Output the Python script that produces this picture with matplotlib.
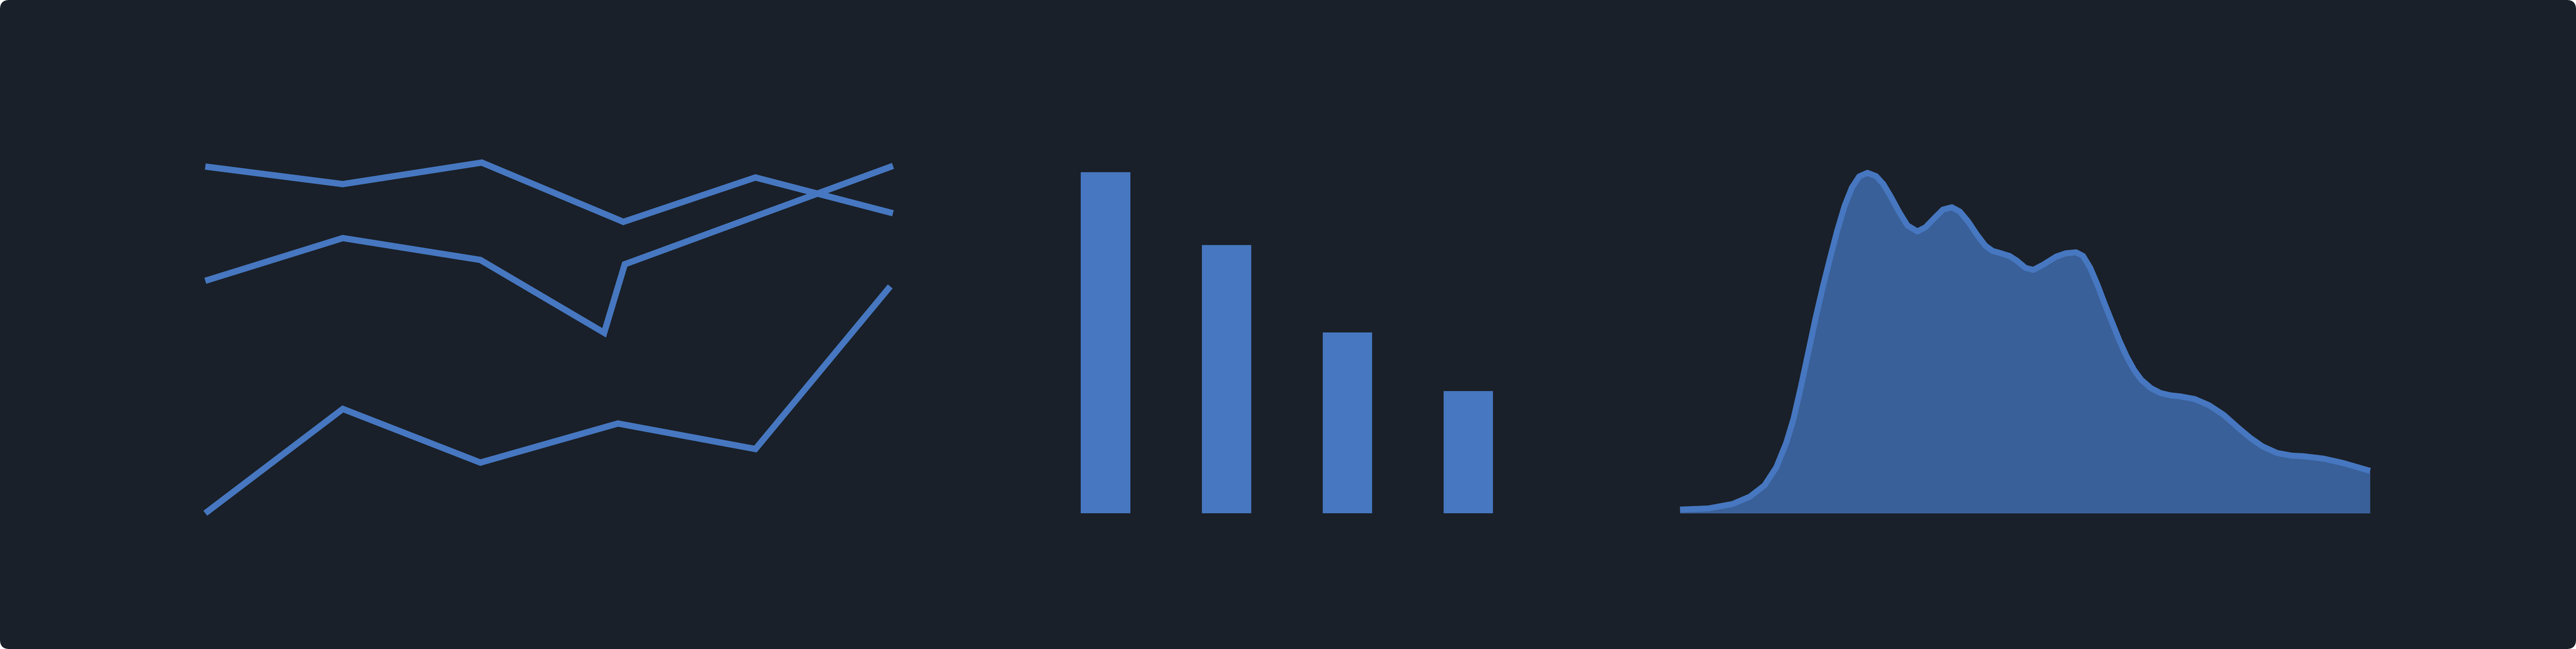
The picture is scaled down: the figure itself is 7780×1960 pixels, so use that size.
import matplotlib
matplotlib.use("Agg")
import matplotlib.pyplot as plt
from matplotlib.patches import FancyBboxPatch
from matplotlib.transforms import IdentityTransform

# colours
bg_color = "#1a2029"
blue = "#4677c0"

# line panel: three series, x positions
line_a_x = [0, 1, 2.01, 3.04, 4.0, 5.0]
line_a_y = [104.7, 99.4, 105.9, 88.0, 101.4, 90.6]
line_b_x = [0, 1, 2.0, 2.90, 3.05, 5.0]
line_b_y = [70.2, 83.1, 76.5, 54.5, 75.2, 104.9]
line_c_x = [0, 1, 2.0, 3.0, 4.0, 4.98]
line_c_y = [0.0, 31.5, 15.3, 27.1, 19.4, 68.5]

# bar panel
bar_pos = [0, 1, 2, 3]
bar_vals = [103.0, 81.0, 54.6, 36.9]

# area panel (density-like curve)
area_x = [0, 4.13, 7.63, 10.12, 12.24, 13.96, 15.40, 16.46, 17.51, 18.57,
          19.62, 20.68, 21.74, 22.79, 23.85, 24.90, 25.96, 27.16, 28.41, 29.46,
          30.52, 31.77, 32.96, 34.40, 35.60, 36.85, 38.10, 39.39, 40.55, 41.79,
          43.00, 44.24, 45.30, 46.35, 47.74, 48.80, 50.05, 51.20, 52.59, 54.51,
          55.90, 57.39, 58.40, 59.45, 60.51, 61.56, 62.62, 63.68, 64.73, 65.79,
          66.84, 68.23, 69.63, 71.07, 72.46, 74.57, 76.68, 78.79, 80.90, 82.68,
          84.40, 86.52, 88.63, 90.40, 93.23, 96.02, 98.51, 100]
area_y = [1.1, 1.45, 2.8, 5.0, 8.4, 13.9, 21.3, 28.6, 38.1, 48.4,
          58.7, 68.2, 77.0, 85.4, 92.8, 98.3, 101.7, 102.8, 101.8, 99.4,
          95.7, 90.9, 86.9, 85.1, 86.4, 89.1, 91.7, 92.4, 91.1, 88.0,
          84.2, 80.8, 79.2, 78.6, 77.7, 76.3, 74.1, 73.5, 75.0, 77.5,
          78.5, 78.8, 77.7, 74.1, 68.9, 63.1, 57.6, 52.1, 47.3, 43.3,
          40.3, 37.8, 36.3, 35.6, 35.3, 34.5, 32.6, 29.7, 25.8, 22.7,
          20.2, 18.2, 17.4, 17.2, 16.5, 15.2, 13.7, 12.8]

W, H = 7780, 1960
fig = plt.figure(figsize=(W / 100, H / 100), dpi=100)
fig.patch.set_facecolor("white")

# rounded dark card behind everything
card = FancyBboxPatch((0, 0), W, H, boxstyle="round,pad=0,rounding_size=28",
                      transform=IdentityTransform(), facecolor=bg_color,
                      edgecolor="none", zorder=-5)
fig.patches.append(card)

lw = 19 * 72 / 100  # ~19 px stroke
bottom, height = 410 / H, 1070 / H
ylim = (0, 107)

# line chart
ax1 = fig.add_axes([620 / W, bottom, (2697 - 620) / W, height])
for xs, ys in [(line_a_x, line_a_y), (line_b_x, line_b_y), (line_c_x, line_c_y)]:
    ax1.plot(xs, ys, color=blue, lw=lw, solid_joinstyle="miter",
             solid_capstyle="butt", clip_on=False)
ax1.set_xlim(0, 5)
ax1.set_ylim(*ylim)

# bar chart
step = 365.3
ax2 = fig.add_axes([(3339 - 0.5 * step) / W, bottom, 4 * step / W, height])
ax2.bar(bar_pos, bar_vals, width=0.408, color=blue, edgecolor="none")
ax2.set_xlim(-0.5, 3.5)
ax2.set_ylim(*ylim)

# area chart
ax3 = fig.add_axes([5074 / W, bottom, (7158 - 5074) / W, height])
ax3.fill_between(area_x, area_y, 0, color=blue, alpha=0.75, linewidth=0)
ax3.plot(area_x, area_y, color=blue, lw=18 * 72 / 100, solid_joinstyle="round",
         solid_capstyle="butt", clip_on=False)
ax3.set_xlim(0, 100)
ax3.set_ylim(*ylim)

for ax in (ax1, ax2, ax3):
    ax.set_facecolor("none")
    ax.axis("off")

fig.savefig("out.png", dpi=100, facecolor=fig.get_facecolor())
plt.close(fig)
